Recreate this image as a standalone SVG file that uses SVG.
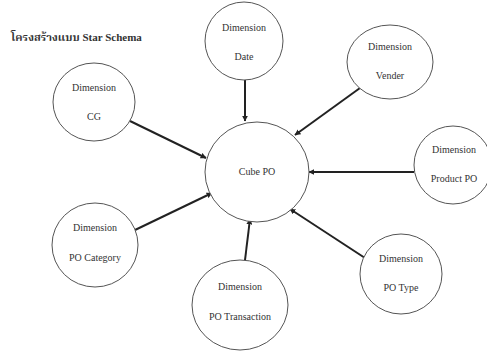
<svg xmlns="http://www.w3.org/2000/svg" width="487" height="353" viewBox="0 0 487 353">
<defs>
<style>
.n ellipse{fill:#fff;stroke:#555;stroke-width:1}
.n text{font-family:'Liberation Serif','DejaVu Serif',serif;font-size:10px;fill:#333;text-anchor:middle}
.c line{stroke:#222;stroke-width:2;marker-end:url(#ah)}
.t{font-family:'Liberation Serif','Noto Serif Thai',serif;font-size:11px;font-weight:bold;fill:#333}
</style>
<marker id="ah" viewBox="0 0 10 10" refX="9" refY="5" markerWidth="3" markerHeight="3" orient="auto" markerUnits="strokeWidth">
<path d="M0,0 L10,5 L0,10 z" fill="#222"/>
</marker>
</defs>
<rect width="487" height="353" fill="#fff"/>
<text class="t" x="11" y="41">โครงสร้างแบบ Star Schema</text>
<g class="c">
<line x1="245" y1="80" x2="245" y2="121"/>
<line x1="360" y1="88" x2="295" y2="135"/>
<line x1="130" y1="121" x2="206" y2="158"/>
<line x1="414" y1="172" x2="309" y2="172"/>
<line x1="135" y1="230" x2="212" y2="193"/>
<line x1="245" y1="260" x2="250" y2="219"/>
<line x1="365" y1="258" x2="290" y2="209"/>
</g>
<g class="n" id="cube"><ellipse cx="257" cy="172" rx="52" ry="50"/><text x="257" y="175">Cube PO</text></g>
<g class="n" id="date"><ellipse cx="244" cy="41" rx="39" ry="39"/><text x="244" y="31">Dimension</text><text x="244" y="60">Date</text></g>
<g class="n" id="vender"><ellipse cx="390" cy="62" rx="43" ry="37"/><text x="390" y="50">Dimension</text><text x="390" y="79">Vender</text></g>
<g class="n" id="cg"><ellipse cx="94" cy="102" rx="41" ry="39"/><text x="94" y="91">Dimension</text><text x="94" y="120">CG</text></g>
<g class="n" id="product"><ellipse cx="453" cy="165" rx="39" ry="39"/><text x="454" y="153">Dimension</text><text x="454" y="182">Product PO</text></g>
<g class="n" id="category"><ellipse cx="95" cy="245" rx="43" ry="42"/><text x="95" y="231">Dimension</text><text x="95" y="261">PO Category</text></g>
<g class="n" id="transaction"><ellipse cx="240" cy="305" rx="48" ry="45"/><text x="240" y="290">Dimension</text><text x="240" y="320">PO Transaction</text></g>
<g class="n" id="potype"><ellipse cx="401" cy="274" rx="41" ry="40"/><text x="401" y="262">Dimension</text><text x="401" y="291">PO Type</text></g>
</svg>
